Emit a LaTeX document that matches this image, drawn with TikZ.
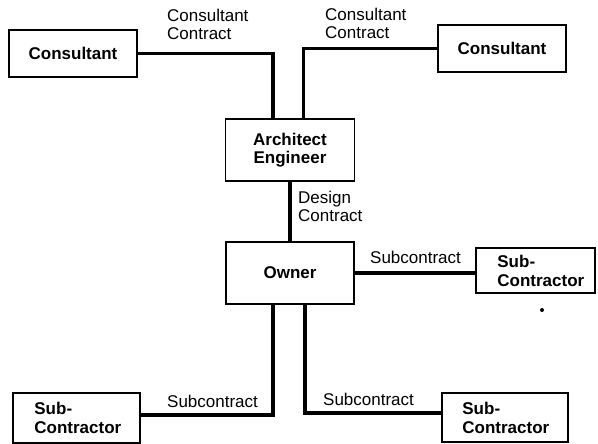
\documentclass[tikz,border=0pt]{standalone}
\usepackage{fontspec}
\setmainfont{Liberation Sans}
\begin{document}
\begin{tikzpicture}[x=1pt,y=-1pt,
  box/.style={draw, line width=1.6pt, inner sep=0pt, align=center,
    font=\fontsize{17}{18.5}\selectfont\bfseries},
  boxtext/.style={inner sep=0pt, align=left, anchor=west,
    font=\fontsize{17}{19}\selectfont\bfseries},
  conn/.style={line width=3.6pt},
  lbl/.style={inner sep=0pt, align=left, anchor=base west,
    font=\fontsize{17}{18}\selectfont},
  ]
\useasboundingbox (0,0) rectangle (598,444);

% parties
\node[box, minimum width=128, minimum height=47] (c1) at (73,53.5) {Consultant};
\node[box, minimum width=128, minimum height=47] (c2) at (502,48.5) {Consultant};
\node[box, minimum width=129, minimum height=62] (arch) at (290,150) {Architect\\Engineer};
\node[box, minimum width=128, minimum height=62] (owner) at (290,273) {Owner};
\node[box, minimum width=119, minimum height=45] (rs) at (535.5,270.5) {};
\node[box, minimum width=127, minimum height=50] (ls) at (76.5,418) {};
\node[box, minimum width=126, minimum height=49] (rb) at (505,417.5) {};
\node[boxtext] (rst) at ([xshift=22]rs.west) {Sub-\\Contractor};
\node[boxtext] (lst) at ([xshift=22]ls.west) {Sub-\\Contractor};
\node[boxtext] (rbt) at ([xshift=21]rb.west) {Sub-\\Contractor};

% contracts
\draw[conn] (c1.east) -| ([xshift=-17]arch.north);
\draw[conn] (c2.west) -| ([xshift=13.5]arch.north);
\draw[conn] (arch.south) -- (owner.north);
\draw[conn] (owner.east) -- (owner.east -| rs.west);
\draw[conn] ([xshift=-17]owner.south) |- ([yshift=3]ls.east);
\draw[conn] ([xshift=15]owner.south) |- ([yshift=4.5]rb.west);

% contract labels (anchored at the baseline of their last line)
\node[lbl] (l1) at (167,40) {Consultant\\Contract};
\node[lbl] (l2) at (325,39) {Consultant\\Contract};
\node[lbl] (l3) at (298,222) {Design\\Contract};
\node[lbl] (l4) at (370,263) {Subcontract};
\node[lbl] (l5) at (167,407) {Subcontract};
\node[lbl] (l6) at (323,405) {Subcontract};

\fill (542,310) circle (2);
\end{tikzpicture}
\end{document}
